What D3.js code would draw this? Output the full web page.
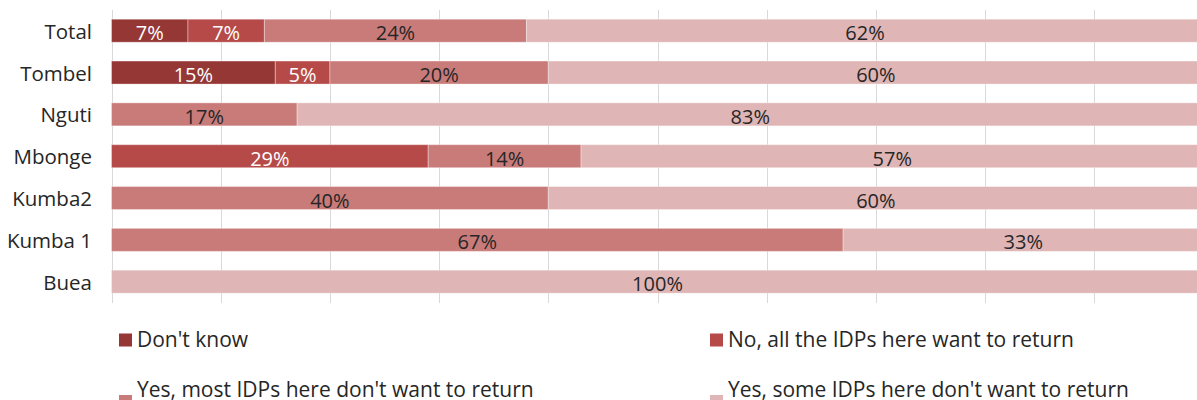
<!DOCTYPE html>
<html>
<head>
<meta charset="utf-8">
<script src="https://cdn.jsdelivr.net/npm/d3@7"></script>
<style>
  html, body { margin: 0; padding: 0; background: #fff; }
  svg { display: block; }
  text { font-family: "Open Sans", "Noto Sans", sans-serif; }
</style>
</head>
<body>
<svg id="chart" width="1197" height="400"></svg>
<script>
// Sites, top to bottom
const categories = ["Total", "Tombel", "Nguti", "Mbonge", "Kumba2", "Kumba 1", "Buea"];

// Answer shares per site (%)
const dontKnow   = [7, 15, 0, 0, 0, 0, 0];
const noAllWant  = [7, 5, 0, 29, 0, 0, 0];
const yesMost    = [24, 20, 17, 14, 40, 67, 0];
const yesSome    = [62, 60, 83, 57, 60, 33, 100];

const seriesNames = [
  "Don't know",
  "No, all the IDPs here want to return",
  "Yes, most IDPs here don't want to return",
  "Yes, some IDPs here don't want to return"
];
const seriesColors = ["#953735", "#B64A48", "#C97B7A", "#DFB5B5"];
const labelColors  = ["#ffffff", "#ffffff", "#262626", "#262626"];
const xTicks = [0, 10, 20, 30, 40, 50, 60, 70, 80, 90, 100];

const svg = d3.select("#chart");

const x = d3.scaleLinear().domain([0, 100]).range([111.5, 1203.5]);
const y = d3.scaleBand().domain(categories).range([9.8, 302.6]).paddingInner(0.45).paddingOuter(0.225);

const rows = categories.map((c, i) => ({
  cat: c,
  vals: [dontKnow[i], noAllWant[i], yesMost[i], yesSome[i]]
}));
const stackData = rows.map(r => {
  const o = { cat: r.cat };
  seriesNames.forEach((s, k) => o[s] = r.vals[k]);
  return o;
});
const stacked = d3.stack().keys(seriesNames)(stackData);

// vertical gridlines
svg.append("g")
  .selectAll("line")
  .data(xTicks)
  .join("line")
  .attr("x1", d => Math.round(x(d)) + 0.5)
  .attr("x2", d => Math.round(x(d)) + 0.5)
  .attr("y1", 10)
  .attr("y2", 303)
  .attr("stroke", "#D9D9D9")
  .attr("stroke-width", 1);

// bars
const layers = svg.append("g")
  .selectAll("g")
  .data(stacked)
  .join("g")
  .attr("fill", (d, i) => seriesColors[i]);

layers.selectAll("rect")
  .data(d => d.filter(p => p[1] - p[0] > 0))
  .join("rect")
  .attr("x", d => x(d[0]))
  .attr("width", d => x(d[1]) - x(d[0]))
  .attr("y", d => y(d.data.cat))
  .attr("height", y.bandwidth())
  .attr("stroke", "#ffffff")
  .attr("stroke-opacity", 0.35)
  .attr("stroke-width", 1);

// value labels
const lbl = svg.append("g").attr("font-size", 20).attr("text-anchor", "middle");
stacked.forEach((layer, k) => {
  lbl.selectAll(null)
    .data(layer.filter(p => p[1] - p[0] > 0))
    .join("text")
    .attr("x", d => (x(d[0]) + x(d[1])) / 2)
    .attr("y", d => y(d.data.cat) + y.bandwidth() / 2 + 9.5)
    .attr("fill", labelColors[k])
    .text(d => `${d[1] - d[0]}%`);
});

// category axis
const yAxis = svg.append("g")
  .attr("transform", `translate(${x(0)},0)`)
  .call(d3.axisLeft(y).tickSize(0).tickPadding(19.5));
yAxis.select(".domain").remove();
yAxis.selectAll("text")
  .attr("font-size", 20.5)
  .attr("fill", "#262626")
  .attr("font-family", "'Open Sans', 'Noto Sans', sans-serif")
  .attr("dy", 8);

// legend
const legendPos = [
  { x: 119, y: 333.5, ty: 346.5 },
  { x: 710, y: 333.5, ty: 346.5 },
  { x: 119, y: 395,   ty: 397 },
  { x: 710, y: 395,   ty: 397 }
];
const legend = svg.append("g")
  .selectAll("g")
  .data(seriesNames)
  .join("g");
legend.append("rect")
  .attr("x", (d, i) => legendPos[i].x)
  .attr("y", (d, i) => legendPos[i].y)
  .attr("width", 13).attr("height", 13)
  .attr("fill", (d, i) => seriesColors[i]);
legend.append("text")
  .attr("x", (d, i) => legendPos[i].x + 18)
  .attr("y", (d, i) => legendPos[i].ty)
  .attr("font-size", 21)
  .attr("fill", "#262626")
  .text(d => d);
</script>
</body>
</html>
